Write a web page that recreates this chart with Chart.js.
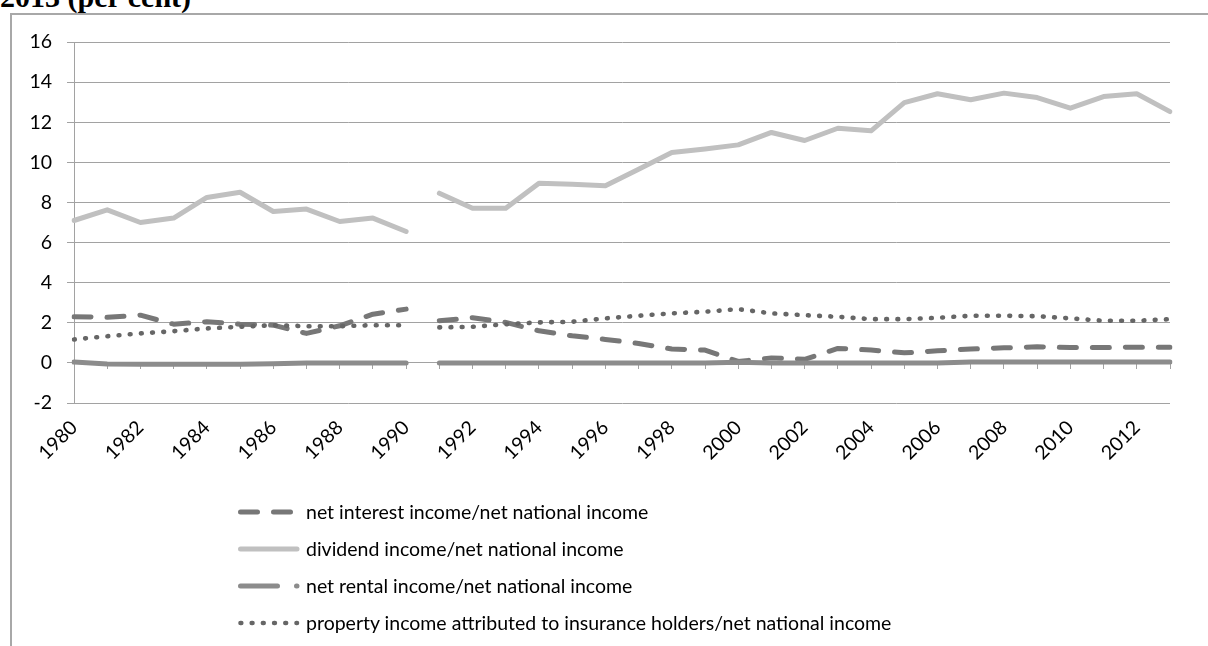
<!DOCTYPE html>
<html>
<head>
<meta charset="utf-8">
<script src="https://cdn.jsdelivr.net/npm/chart.js@4.4.0/dist/chart.umd.min.js"></script>
<style>
  body { margin: 0; width: 1208px; height: 646px; overflow: hidden; background: #fff; position: relative; font-family: Lato, sans-serif; }
  #title { position: absolute; left: 0; top: -18px; font: bold 30px "Liberation Serif", serif; line-height: 30px; white-space: nowrap; }
  #frame { position: absolute; left: 10px; top: 13px; right: -5px; bottom: -5px; border-top: 2px solid #a8a8a8; border-left: 2px solid #a8a8a8; }
  #chart { position: absolute; left: 0; top: 0; }
  #legend { position: absolute; left: 236px; top: 493px; }
  .item { display: flex; align-items: center; height: 37px; font-size: 19.5px; color: #000; white-space: nowrap; }
  .item svg { width: 66px; height: 10px; margin-right: 4px; flex: none; }
</style>
</head>
<body>
<div id="title">2013 (per cent)</div>
<div id="frame"></div>
<canvas id="chart" width="1208" height="646"></canvas>
<div id="legend"></div>
<script>
// categories and values
const years = ['1980', '1981', '1982', '1983', '1984', '1985', '1986', '1987', '1988', '1989', '1990',
    '1991', '1992', '1993', '1994', '1995', '1996', '1997', '1998', '1999', '2000', '2001', '2002',
    '2003', '2004', '2005', '2006', '2007', '2008', '2009', '2010', '2011', '2012', '2013'];

const interestIncome = [2.30, 2.27, 2.38, 1.93, 2.05, 1.93, 1.88, 1.47, 1.85, 2.43, 2.68,
    2.10, 2.25, 2.02, 1.60, 1.35, 1.17, 0.97, 0.69, 0.64, 0.07, 0.25, 0.18,
    0.72, 0.64, 0.50, 0.60, 0.69, 0.75, 0.80, 0.77, 0.77, 0.78, 0.78];

const dividendIncome = [7.10, 7.63, 7.00, 7.22, 8.25, 8.51, 7.55, 7.67, 7.05, 7.22, 6.55,
    8.46, 7.71, 7.71, 8.96, 8.91, 8.83, 9.66, 10.49, 10.67, 10.87, 11.49, 11.09,
    11.70, 11.57, 12.98, 13.42, 13.12, 13.45, 13.23, 12.70, 13.28, 13.42, 12.53];

const rentalIncome = [0.04, -0.06, -0.07, -0.07, -0.07, -0.07, -0.04, 0.00, 0.00, 0.00, 0.00,
    0.00, 0.00, 0.00, 0.00, 0.00, 0.00, 0.00, 0.00, 0.00, 0.03, 0.00, 0.00,
    0.00, 0.00, 0.00, 0.00, 0.04, 0.05, 0.05, 0.05, 0.05, 0.05, 0.05];

const insuranceIncome = [1.17, 1.33, 1.47, 1.58, 1.72, 1.80, 1.88, 1.83, 1.83, 1.88, 1.88,
    1.77, 1.80, 1.93, 2.02, 2.05, 2.22, 2.35, 2.47, 2.55, 2.68, 2.47, 2.38,
    2.30, 2.18, 2.18, 2.25, 2.35, 2.35, 2.33, 2.22, 2.10, 2.10, 2.18];

const yTicks = { min: -2, max: 16, step: 2 };
const gapAfter = '1990';   // the series break between 1990 and 1991

const gapIndex = years.indexOf(gapAfter);
const gapSegment = {
    borderColor: ctx => ctx.p0DataIndex === gapIndex ? 'rgba(0,0,0,0)' : undefined
};

const gridGray = '#a2a2a2';
const labelFont = { family: 'Lato', size: 19.5 };

const datasets = [
    {
        label: 'net interest income/net national income',
        data: interestIncome,
        borderColor: '#777777',
        borderWidth: 5,
        borderDash: [17, 16],
        legendDash: '17 16',
        order: 2
    },
    {
        label: 'dividend income/net national income',
        data: dividendIncome,
        borderColor: '#c0c0c0',
        borderWidth: 5,
        borderDash: [],
        legendDash: 'none',
        order: 3
    },
    {
        label: 'net rental income/net national income',
        data: rentalIncome,
        borderColor: '#8c8c8c',
        borderWidth: 5,
        borderDash: [],
        legendDash: '37 19',
        order: 1
    },
    {
        label: 'property income attributed to insurance holders/net national income',
        data: insuranceIncome,
        borderColor: '#666666',
        borderWidth: 4.6,
        borderDash: [0.8, 10.4],
        legendDash: '0.8 10.4',
        order: 0
    }
];

datasets.forEach(ds => {
    ds.fill = false;
    ds.tension = 0;
    ds.pointRadius = 0;
    ds.pointHoverRadius = 0;
    ds.borderCapStyle = 'round';
    ds.borderJoinStyle = 'round';
    ds.segment = gapSegment;
});

const chart = new Chart(document.getElementById('chart'), {
    type: 'line',
    data: { labels: years, datasets: datasets },
    options: {
        responsive: false,
        animation: false,
        devicePixelRatio: 1,
        layout: { padding: { left: 10, right: 38, top: 42, bottom: 0 } },
        plugins: {
            legend: { display: false },
            tooltip: { enabled: false }
        },
        scales: {
            x: {
                type: 'category',
                position: 'bottom',
                grid: { display: false, drawTicks: false },
                border: { display: false },
                ticks: {
                    autoSkip: false,
                    minRotation: 45,
                    maxRotation: 45,
                    padding: 13,
                    color: '#000',
                    font: labelFont,
                    callback: (v, i) => i % 2 ? null : years[i]
                },
                afterFit: s => { s.height = 243; }
            },
            xZero: {
                type: 'category',
                axis: 'x',
                position: { y: 0 },
                ticks: { display: false },
                grid: { drawOnChartArea: false, drawTicks: true, tickLength: 6, color: gridGray, lineWidth: 1 },
                border: { color: gridGray, width: 1 }
            },
            y: {
                min: yTicks.min,
                max: yTicks.max,
                ticks: { stepSize: yTicks.step, padding: 15, color: '#000', font: labelFont },
                grid: { color: gridGray, lineWidth: 1, tickLength: 7 },
                border: { color: gridGray, width: 1 },
                afterFit: s => { s.width = 64; }
            }
        }
    }
});

// legend below the plot, one entry per row
const legendBox = document.getElementById('legend');
chart.data.datasets.forEach(ds => {
    const row = document.createElement('div');
    row.className = 'item';
    const dash = ds.legendDash === 'none' ? '' : ` stroke-dasharray="${ds.legendDash}"`;
    row.innerHTML =
        `<svg viewBox="0 0 66 10"><line x1="4.5" y1="5" x2="61" y2="5" stroke="${ds.borderColor}" ` +
        `stroke-width="${ds.borderWidth}" stroke-linecap="round"${dash}/></svg>` +
        `<span>${ds.label}</span>`;
    legendBox.appendChild(row);
});
</script>
</body>
</html>
